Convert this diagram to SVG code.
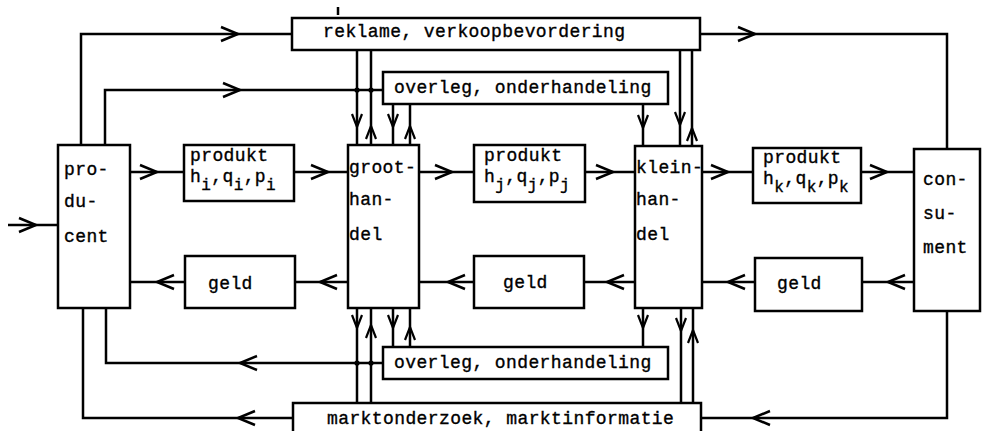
<svg xmlns="http://www.w3.org/2000/svg" xmlns:xlink="http://www.w3.org/1999/xlink" width="982" height="431" viewBox="0 0 982 431">
<style>
.box{fill:#fff;stroke:#000;stroke-width:2.5}
.ln{fill:none;stroke:#000;stroke-width:2.5}
.t{font-family:"Liberation Mono","DejaVu Sans Mono",monospace;font-size:18px;letter-spacing:0.4px;fill:#000;stroke:#000;stroke-width:0.35}
.s{font-size:16px}
</style>
<defs>
<path id="ah" d="M-17,-7 L0,0 L-17,7" fill="none" stroke="#000" stroke-width="2.5"/>
<path id="as" d="M-13,-5 L0,0 L-13,5" fill="none" stroke="#000" stroke-width="2.2"/>
</defs>
<rect width="982" height="431" fill="#fff"/>
<g id="connectors">
<path class="ln" d="M8,225 H58"/>
<path class="ln" d="M81,145 V34 H292"/>
<path class="ln" d="M700,34 H947 V149"/>
<path class="ln" d="M105,145 V90 H383"/>
<path class="ln" d="M130,172 H184 M294,172 H348 M419,172 H474 M585,172 H635 M702,172 H753 M861,172 H914"/>
<path class="ln" d="M130,282 H185 M295,282 H348 M419,282 H474 M584,282 H635 M702,282 H755 M862,282 H914"/>
<path class="ln" d="M383,363 H106 V308"/>
<path class="ln" d="M293,418 H83 V308"/>
<path class="ln" d="M947,311 V418 H701"/>
<path class="ln" d="M357,50 V145 M371,50 V145 M393,104 V145 M410,104 V145 M643,104 V146 M680,50 V146 M692,50 V146"/>
<path class="ln" d="M357,308 V403 M371,308 V403 M393,308 V347 M410,308 V347 M643,308 V347 M681,308 V403 M693,308 V403"/>
<path class="ln" d="M338,7 V15"/>
<circle cx="357" cy="90" r="2.6"/><circle cx="371" cy="90" r="2.6"/>
<circle cx="357" cy="363" r="2.6"/><circle cx="371" cy="363" r="2.6"/>
<use xlink:href="#ah" transform="translate(36,225)"/>
<use xlink:href="#ah" transform="translate(238,34)"/>
<use xlink:href="#ah" transform="translate(755,34)"/>
<use xlink:href="#ah" transform="translate(240,90)"/>
<use xlink:href="#ah" transform="translate(157,172)"/>
<use xlink:href="#ah" transform="translate(328,172)"/>
<use xlink:href="#ah" transform="translate(452,172)"/>
<use xlink:href="#ah" transform="translate(613,172)"/>
<use xlink:href="#ah" transform="translate(728,172)"/>
<use xlink:href="#ah" transform="translate(887,172)"/>
<use xlink:href="#ah" transform="translate(157,282) rotate(180)"/>
<use xlink:href="#ah" transform="translate(320,282) rotate(180)"/>
<use xlink:href="#ah" transform="translate(448,282) rotate(180)"/>
<use xlink:href="#ah" transform="translate(607,282) rotate(180)"/>
<use xlink:href="#ah" transform="translate(728,282) rotate(180)"/>
<use xlink:href="#ah" transform="translate(888,282) rotate(180)"/>
<use xlink:href="#ah" transform="translate(240,363) rotate(180)"/>
<use xlink:href="#ah" transform="translate(238,418) rotate(180)"/>
<use xlink:href="#ah" transform="translate(753,418) rotate(180)"/>
<use xlink:href="#as" transform="translate(357,127) rotate(90)"/>
<use xlink:href="#as" transform="translate(371,126) rotate(-90)"/>
<use xlink:href="#as" transform="translate(393,127) rotate(90)"/>
<use xlink:href="#as" transform="translate(410,126) rotate(-90)"/>
<use xlink:href="#as" transform="translate(643,128) rotate(90)"/>
<use xlink:href="#as" transform="translate(680,125) rotate(90)"/>
<use xlink:href="#as" transform="translate(692,128) rotate(-90)"/>
<use xlink:href="#as" transform="translate(357,328) rotate(90)"/>
<use xlink:href="#as" transform="translate(371,325) rotate(-90)"/>
<use xlink:href="#as" transform="translate(393,328) rotate(90)"/>
<use xlink:href="#as" transform="translate(410,327) rotate(-90)"/>
<use xlink:href="#as" transform="translate(643,328) rotate(90)"/>
<use xlink:href="#as" transform="translate(681,331) rotate(90)"/>
<use xlink:href="#as" transform="translate(693,330) rotate(-90)"/>
</g>
<g id="reklame"><rect class="box" x="292" y="18" width="408" height="32"/><text class="t" x="323" y="37">reklame, verkoopbevordering</text></g>
<g id="overleg-top"><rect class="box" x="383" y="72" width="285" height="32"/><text class="t" x="394" y="93">overleg, onderhandeling</text></g>
<g id="producent"><rect class="box" x="58" y="145" width="72" height="163"/><text class="t" x="64" y="175">pro-</text><text class="t" x="64" y="207">du-</text><text class="t" x="64" y="242">cent</text></g>
<g id="produkt-i"><rect class="box" x="184" y="145" width="110" height="56"/><text class="t" x="190" y="161">produkt</text><text class="t" x="190" y="182">h<tspan class="s" dy="8">i</tspan><tspan dy="-8">,q</tspan><tspan class="s" dy="8">i</tspan><tspan dy="-8">,p</tspan><tspan class="s" dy="8">i</tspan></text></g>
<g id="groothandel"><rect class="box" x="348" y="145" width="71" height="163"/><text class="t" x="349" y="173">groot-</text><text class="t" x="349" y="205">han-</text><text class="t" x="349" y="240">del</text></g>
<g id="produkt-j"><rect class="box" x="474" y="145" width="111" height="57"/><text class="t" x="484" y="161">produkt</text><text class="t" x="484" y="182">h<tspan class="s" dy="8">j</tspan><tspan dy="-8">,q</tspan><tspan class="s" dy="8">j</tspan><tspan dy="-8">,p</tspan><tspan class="s" dy="8">j</tspan></text></g>
<g id="kleinhandel"><rect class="box" x="635" y="146" width="67" height="162"/><text class="t" x="636" y="173">klein-</text><text class="t" x="636" y="205">han-</text><text class="t" x="636" y="240">del</text></g>
<g id="produkt-k"><rect class="box" x="753" y="148" width="108" height="55"/><text class="t" x="763" y="163">produkt</text><text class="t" x="763" y="184">h<tspan class="s" dy="8">k</tspan><tspan dy="-8">,q</tspan><tspan class="s" dy="8">k</tspan><tspan dy="-8">,p</tspan><tspan class="s" dy="8">k</tspan></text></g>
<g id="consument"><rect class="box" x="914" y="149" width="66" height="162"/><text class="t" x="923" y="185">con-</text><text class="t" x="923" y="219">su-</text><text class="t" x="923" y="253">ment</text></g>
<g id="geld-1"><rect class="box" x="185" y="256" width="110" height="52"/><text class="t" x="208" y="289">geld</text></g>
<g id="geld-2"><rect class="box" x="474" y="256" width="110" height="52"/><text class="t" x="503" y="288">geld</text></g>
<g id="geld-3"><rect class="box" x="755" y="258" width="107" height="53"/><text class="t" x="777" y="289">geld</text></g>
<g id="overleg-bottom"><rect class="box" x="383" y="347" width="285" height="32"/><text class="t" x="394" y="368">overleg, onderhandeling</text></g>
<g id="marktonderzoek"><rect class="box" x="293" y="403" width="408" height="40"/><text class="t" x="327" y="424">marktonderzoek, marktinformatie</text></g>
</svg>
